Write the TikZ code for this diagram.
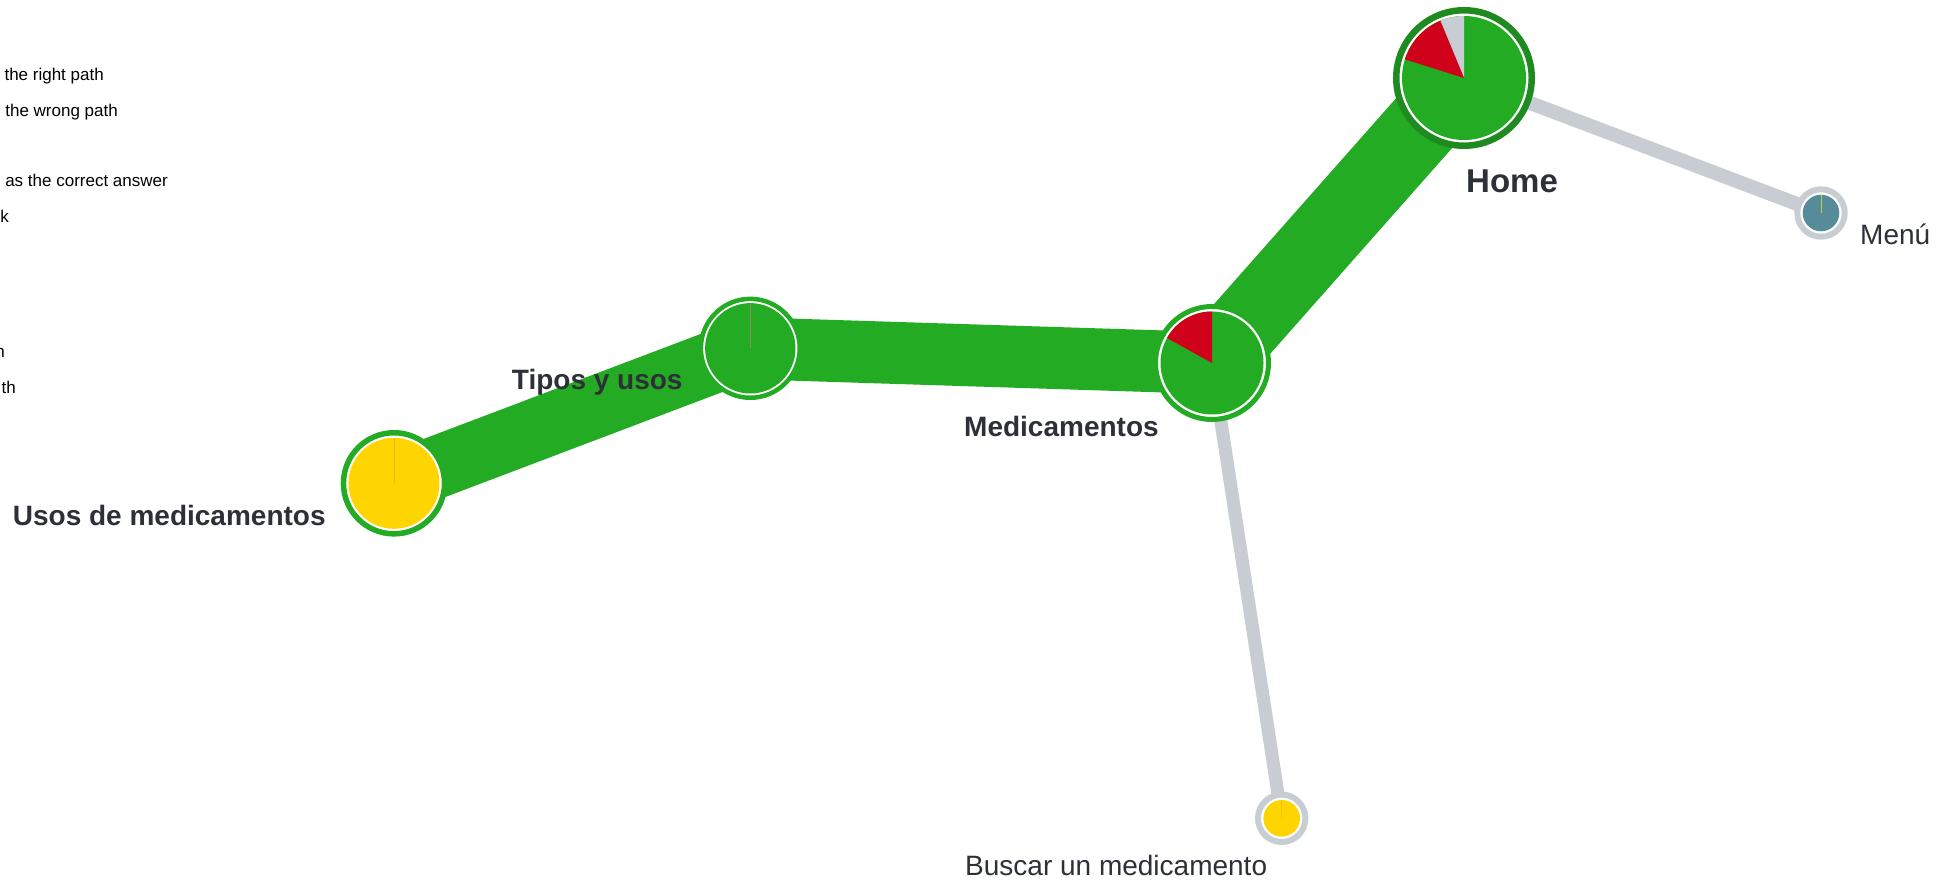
\documentclass[tikz,border=0pt]{standalone}
\usepackage{fontspec}
\setmainfont{Liberation Sans}
\usepackage{xcolor}
\usepackage{tikz}
\usetikzlibrary{backgrounds}

\definecolor{verde}{HTML}{23AB23}
\definecolor{verdescuro}{HTML}{1F8A1F}
\definecolor{rosso}{HTML}{D0021B}
\definecolor{grigio}{HTML}{C7CDD2}
\definecolor{giallo}{HTML}{FFD500}
\definecolor{petrolio}{HTML}{568C9A}
\definecolor{testo}{HTML}{2D3137}

\tikzset{
  nodo/.style={circle, inner sep=0pt, fill=white},
  etichetta/.style={anchor=base west, text=testo, inner sep=0pt, font=\fontsize{28}{34}\selectfont\bfseries},
  etichettafine/.style={anchor=base west, text=testo, inner sep=0pt, font=\fontsize{28}{34}\selectfont},
  nota/.style={anchor=base east, inner sep=0pt, font=\fontsize{17}{20}\selectfont},
}

\begin{document}
\begin{tikzpicture}[x=1pt, y=1pt]
    \useasboundingbox (0,0) rectangle (1955,-885);

    % Nodi dell'albero
    \node[nodo, draw=verdescuro, line width=6.5pt, minimum size=135.5pt] (home) at (1464,-78) {};
    \node[nodo, draw=verde, line width=5pt, minimum size=113pt] (medicamentos) at (1212,-363) {};
    \node[nodo, draw=verde, line width=4.5pt, minimum size=98.9pt] (tipos) at (750.3,-348.3) {};
    \node[nodo, draw=verde, line width=5.5pt, minimum size=101.1pt] (usos) at (394,-483.3) {};
    \node[nodo, draw=grigio, line width=6pt, minimum size=47.4pt] (menu) at (1821,-213) {};
    \node[nodo, draw=grigio, line width=6pt, minimum size=47.4pt] (buscar) at (1281.7,-818.3) {};

    % Rami (sotto i nodi)
    \begin{scope}[on background layer]
        \fill[white] (0,0) rectangle (1955,-885);
        \draw[verde, line width=62pt] (usos.center) -- (tipos.center);
        \draw[verde, line width=62pt] (tipos.center) -- (medicamentos.center);
        \draw[verde, line width=75pt] (medicamentos.center) -- (home.center);
        \draw[grigio, line width=14pt] (home.center) -- (menu.center);
        \draw[grigio, line width=13pt] (medicamentos.center) -- (buscar.center);
    \end{scope}

    % Torte
    \fill[verde] (home.center) circle (62);
    \fill[grigio] (home.center) -- ++(90:62) arc (90:112.5:62) -- cycle;
    \fill[rosso] (home.center) -- ++(112.5:62) arc (112.5:162.5:62) -- cycle;

    \fill[verde] (medicamentos.center) circle (51.5);
    \fill[rosso] (medicamentos.center) -- ++(90:51.5) arc (90:151:51.5) -- cycle;

    \fill[verde] (tipos.center) circle (45.2);
    \draw[gray!70!olive, line width=0.7pt] (tipos.center) -- ++(90:45.2);

    \fill[giallo] (usos.center) circle (45.5);
    \draw[giallo!70!gray, line width=0.7pt] (usos.center) -- ++(90:45.5);

    \fill[petrolio] (menu.center) circle (18.3);
    \draw[petrolio!40!yellow, line width=0.6pt] (menu.center) -- ++(90:18.3);

    \fill[giallo] (buscar.center) circle (18.3);
    \draw[giallo!80!orange, line width=0.6pt] (buscar.center) -- ++(90:18.3);

    % Etichette
    \node[etichetta, font=\fontsize{33}{40}\selectfont\bfseries] (lhome) at (1466,-193) {Home};
    \node[etichetta] (lmedicamentos) at (964,-436.7) {Medicamentos};
    \node[etichetta] (ltipos) at (511.7,-389) {Tipos y usos};
    \node[etichetta] (lusos) at (12.7,-525.7) {Usos de medicamentos};
    \node[etichettafine] (lmenu) at (1860,-245) {Menú};
    \node[etichettafine] (lbuscar) at (965,-875) {Buscar un medicamento};

    % Legenda (tagliata a sinistra)
    \node[nota] (n1) at (104,-81) {the right path};
    \node[nota] (n2) at (118,-117) {the wrong path};
    \node[nota] (n3) at (168,-187) {as the correct answer};
    \node[nota] (n4) at (9,-223) {k};
    \node[nota] (n5) at (5,-358) {h};
    \node[nota] (n6) at (16,-393) {th};
\end{tikzpicture}
\end{document}
